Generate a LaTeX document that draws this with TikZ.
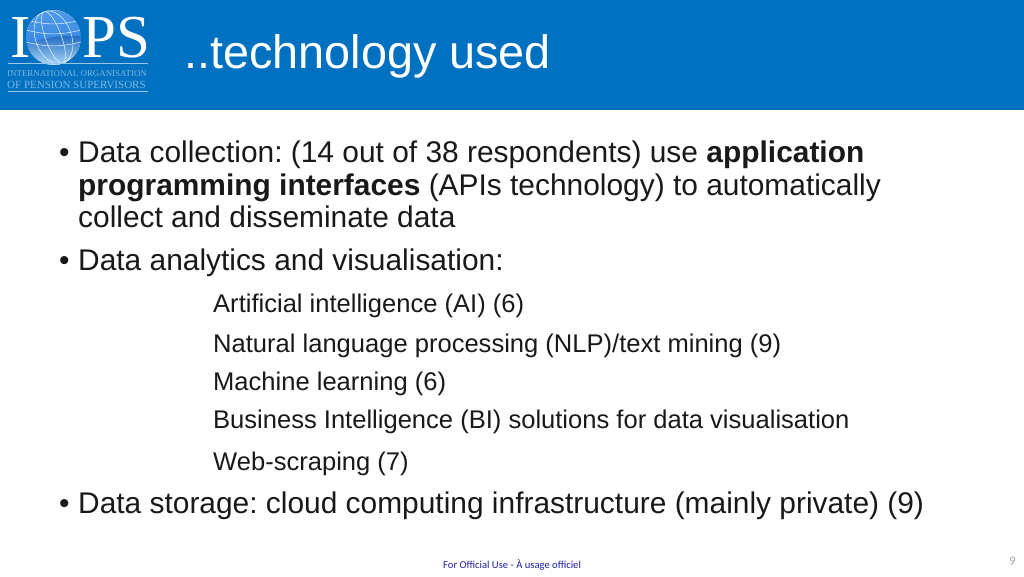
\documentclass[tikz,border=0pt]{standalone}
\usepackage{fontspec}
\setmainfont{Liberation Sans}
\newfontfamily\logofont{Liberation Serif}
\newfontfamily\footfont{Carlito}
\usetikzlibrary{positioning}
\definecolor{bannerblue}{RGB}{0,112,192}
\definecolor{footblue}{RGB}{30,30,170}
\definecolor{pagegray}{RGB}{165,165,165}
\definecolor{globelight}{RGB}{175,220,250}
\definecolor{globedark}{RGB}{40,125,225}
\tikzset{
  x=1pt,y=-1pt,
  mainline/.style={anchor=base west,inner sep=0pt,font=\fontsize{29.9}{29.9}\selectfont\frenchspacing,text=black!90},
  subline/.style={anchor=base west,inner sep=0pt,font=\fontsize{25.55}{25.55}\selectfont\frenchspacing,text=black!90},
  logotext/.style={anchor=base west,inner sep=0pt,text=white},
  logosmall/.style={anchor=base west,inner sep=0pt,text=white!50!bannerblue},
  gridline/.style={white!70!globelight,line width=0.5pt},
}
\begin{document}
\begin{tikzpicture}
    \useasboundingbox (0,0) rectangle (1024,576);
    \fill[white] (0,0) rectangle (1024,576);
    \fill[bannerblue] (0,0) rectangle (1024,110);
    % logo
    \node[logotext,font=\logofont\fontsize{61}{61}\selectfont] (logoi) at (10,57) {I};
    \node[logotext,font=\logofont\fontsize{61}{61}\selectfont] (logops) at (82,57) {PS};
    \shade[top color=globedark!70!globelight,bottom color=globedark] (53.5,37.5) circle (27.5);
    \begin{scope}
      \clip (53.5,37.5) circle (27.5);
      \shade[top color=globedark!85!black,bottom color=globelight] (26,44) to[bend left=10] (81,36) -- (81,66) -- (26,66) -- cycle;
      \foreach \bend in {-18,-8,4}
        \draw[gridline] (26,38+\bend) to[bend right=14] (81,38+\bend);
      \foreach \tilt in {8,18,28}
        \draw[gridline] (53.5,37.5) ellipse[x radius=\tilt,y radius=27.5,rotate=20];
    \end{scope}
    \draw[white!60!bannerblue,line width=0.4pt] (8,63)--(148,63);
    \draw[white!60!bannerblue,line width=0.4pt] (8,91)--(148,91);
    \node[logosmall,font=\logofont\fontsize{8.9}{8.9}\selectfont] (logoname) at (7,76) {INTERNATIONAL ORGANISATION};
    \node[logosmall,font=\logofont\fontsize{11}{11}\selectfont] (logoname2) at (7,88) {OF PENSION SUPERVISORS};
    % title
    \node[anchor=base west,inner sep=0pt,text=white,font=\fontsize{46.8}{46.8}\selectfont] (title) at (184,68) {..technology used};
    % bullets
    \node[mainline] (dot1) at (59,162) {•};
    \node[mainline] (line1) at (78,162) {Data collection: (14 out of 38 respondents) use \textbf{application}};
    \node[mainline] (line2) at (78,195) {\textbf{programming interfaces} (APIs technology) to automatically};
    \node[mainline] (line3) at (78,227) {collect and disseminate data};
    \node[mainline] (dot2) at (59,270) {•};
    \node[mainline] (line4) at (78,270) {Data analytics and visualisation:};
    \node[subline] (sub1) at (213,312) {Artificial intelligence (AI) (6)};
    \node[subline] (sub2) at (213,352) {Natural language processing (NLP)/text mining (9)};
    \node[subline] (sub3) at (213,390) {Machine learning (6)};
    \node[subline] (sub4) at (213,428) {Business Intelligence (BI) solutions for data visualisation};
    \node[subline] (sub5) at (213,470) {Web-scraping (7)};
    \node[mainline] (dot3) at (59,513) {•};
    \node[mainline] (line5) at (78,513) {Data storage: cloud computing infrastructure (mainly private) (9)};
    % footer
    \node[anchor=base west,inner sep=0pt,text=footblue,font=\footfont\fontsize{10.6}{10.6}\selectfont] (foot) at (443,568) {For Official Use - À usage officiel};
    \node[anchor=base east,inner sep=0pt,text=pagegray,font=\footfont\fontsize{13}{13}\selectfont] (page) at (1016,565) {9};
\end{tikzpicture}
\end{document}
